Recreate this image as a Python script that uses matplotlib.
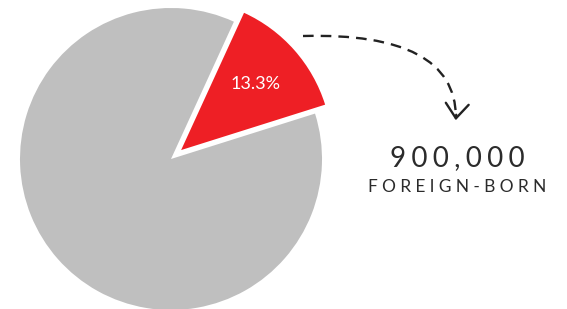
import matplotlib
matplotlib.use('Agg')
import matplotlib.pyplot as plt
from matplotlib.path import Path
from matplotlib.patches import PathPatch, FancyArrowPatch

# data
groups = ['Foreign-born', 'Native-born']
shares = [13.3, 86.7]
colors = ['#ee1f25', '#bfbfbf']
count_label = '900,000'
group_label = 'FOREIGN-BORN'

W, H = 567, 309
fig = plt.figure(figsize=(W / 100, H / 100), dpi=100)
ax = fig.add_axes([0, 0, 1, 1])

wedges, texts, autotexts = ax.pie(
    shares, colors=colors, startangle=17.5, counterclock=True,
    explode=[13.5, 0], center=(171, 150), radius=151,
    autopct=lambda p: f'{p:.1f}%' if p < 50 else '', pctdistance=0.66,
    wedgeprops=dict(linewidth=0), frame=True)
for t in autotexts:
    t.set_color('white')
    t.set_fontsize(13)
    t.set_family('Lato')
ax.set_xlim(0, W)
ax.set_ylim(0, H)
ax.set_aspect('equal')
ax.axis('off')

# dashed curved arrow
p0, c, p1 = (303, 273), (455, 277), (456, 192)
curve = Path([p0, c, p1], [Path.MOVETO, Path.CURVE3, Path.CURVE3])
ax.add_patch(PathPatch(curve, fill=False, ec='#222222', lw=1.7,
                       linestyle=(0, (4.5, 3))))
ax.add_patch(FancyArrowPatch((456.5, 197), (455.5, 186), arrowstyle='->,head_length=7,head_width=5.5',
                             color='#222222', lw=1.7, mutation_scale=1.5))


def spaced(s, sep):
    return sep.join(s)


ax.text(457, 151, spaced(count_label, '\u2009\u200a'), ha='center', va='center',
        fontsize=20, color='#2b2b2b', family='Lato')
ax.text(457, 122, spaced(group_label, '\u2009\u2009'), ha='center', va='center',
        fontsize=12.5, color='#2b2b2b', family='Lato')

fig.savefig('out.png', dpi=100)
